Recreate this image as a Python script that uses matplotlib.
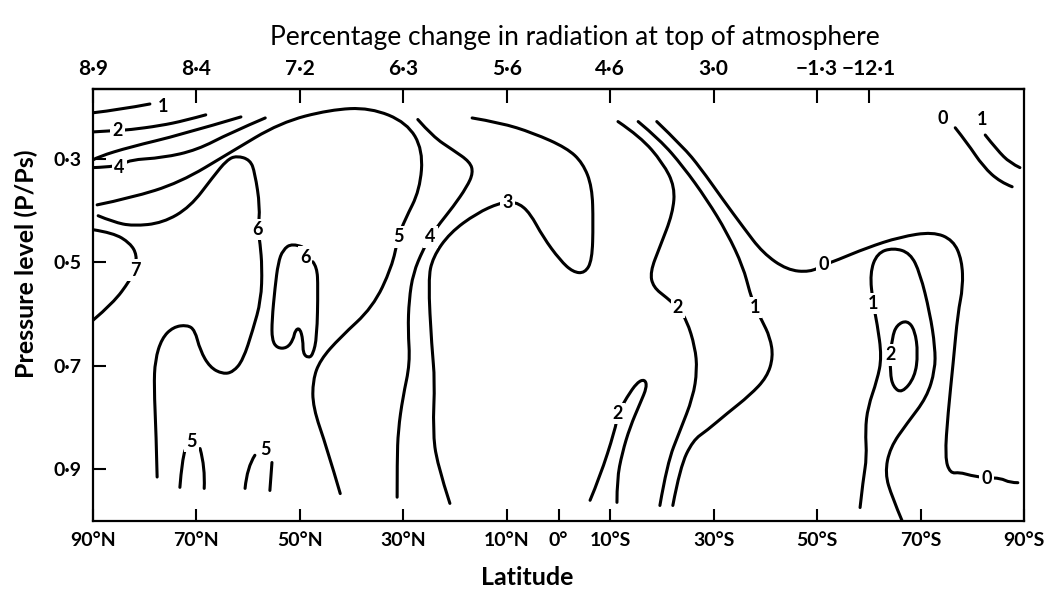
import matplotlib.pyplot as plt
from matplotlib.path import Path
from matplotlib.patches import PathPatch

plt.rcParams['font.family'] = ['Lato', 'DejaVu Sans']

# axis ticks and labels
lat_bottom = [90, 70, 50, 30, 10, 0, -10, -30, -50, -70, -90]
lat_bottom_labels = ['90°N', '70°N', '50°N', '30°N', '10°N', '0°',
                     '10°S', '30°S', '50°S', '70°S', '90°S']
lat_top = [90, 70, 50, 30, 10, -10, -30, -50, -60]
radiation_change = ['8·9', '8·4', '7·2', '6·3', '5·6', '4·6', '3·0', '−1·3', '−12·1']
p_levels = [0.3, 0.5, 0.7, 0.9]
p_labels = ['0·3', '0·5', '0·7', '0·9']

# isolines, as (latitude, P/Ps); north positive
iso_1_nw = [(90.0, 0.211), (84.8, 0.205), (79.0, 0.194)]
iso_2_nw = [(90.0, 0.248), (85.2, 0.245), (83.0, 0.244), (77.0, 0.236),
            (72.2, 0.226), (68.2, 0.215)]
iso_3_nw = [(90.0, 0.302), (89.0, 0.296), (82.8, 0.277), (73.2, 0.254),
            (61.4, 0.219)]
iso_4_nw = [(90.0, 0.317), (84.8, 0.315), (83.0, 0.302), (76.5, 0.298),
            (69.9, 0.283), (63.5, 0.250), (56.7, 0.221)]
iso_5_n = [(89.2, 0.389), (82.8, 0.376), (73.2, 0.346), (63.5, 0.288),
           (53.8, 0.230), (44.2, 0.205), (36.4, 0.201), (29.3, 0.230),
           (26.2, 0.283), (26.8, 0.360), (29.7, 0.418), (31.0, 0.451),
           (32.2, 0.509), (35.9, 0.587), (42.2, 0.645), (46.1, 0.689),
           (47.5, 0.728), (47.5, 0.780), (44.8, 0.858), (42.2, 0.947)]
iso_6_n = [(89.0, 0.410), (86.1, 0.422), (82.3, 0.430), (76.5, 0.424),
           (71.2, 0.393), (66.8, 0.335), (64.1, 0.302), (62.2, 0.294),
           (59.6, 0.302), (58.7, 0.327), (57.7, 0.393), (58.1, 0.437),
           (57.7, 0.463), (57.3, 0.509), (57.5, 0.573), (59.1, 0.631),
           (61.0, 0.689), (62.9, 0.712), (64.9, 0.716), (67.4, 0.703),
           (69.3, 0.670), (70.3, 0.631), (71.8, 0.621), (74.5, 0.625),
           (76.7, 0.647), (78.0, 0.689), (78.2, 0.741), (77.8, 0.830),
           (77.6, 0.915)]
iso_7_n = [(90.0, 0.437), (86.1, 0.443), (82.8, 0.463), (81.5, 0.486),
           (81.9, 0.515), (82.8, 0.534), (86.1, 0.579), (90.0, 0.612)]
iso_6_inner = [(49.6, 0.470), (51.5, 0.463), (53.3, 0.476), (54.2, 0.501),
               (54.8, 0.548), (55.4, 0.612), (55.4, 0.650), (54.4, 0.666),
               (52.5, 0.666), (51.3, 0.650), (50.9, 0.631), (50.0, 0.627),
               (49.4, 0.650), (49.4, 0.676), (48.4, 0.685), (47.5, 0.679),
               (46.7, 0.645), (46.5, 0.548), (46.7, 0.509), (47.5, 0.499)]
iso_5_low_a = [(73.2, 0.935), (72.8, 0.883), (72.2, 0.863)]
iso_5_low_b = [(69.3, 0.860), (68.3, 0.896), (68.5, 0.937)]
iso_5_low_c = [(60.6, 0.937), (60.2, 0.896), (58.7, 0.873)]
iso_5_low_d = [(55.4, 0.887), (55.8, 0.941)]
iso_4_n = [(27.2, 0.224), (24.3, 0.257), (20.4, 0.283), (17.1, 0.306),
           (16.5, 0.327), (17.7, 0.354), (20.4, 0.393), (22.9, 0.424),
           (24.8, 0.451), (26.2, 0.476), (28.1, 0.521), (28.9, 0.573),
           (29.1, 0.631), (28.7, 0.695), (30.1, 0.761), (31.0, 0.825),
           (31.2, 0.883), (31.2, 0.954)]
iso_3_eq = [(16.7, 0.221), (11.3, 0.230), (4.9, 0.250), (-1.6, 0.279),
            (-4.7, 0.308), (-6.5, 0.354), (-6.7, 0.424), (-6.5, 0.496),
            (-5.1, 0.521), (-2.8, 0.519), (-0.3, 0.496), (3.0, 0.451),
            (5.5, 0.405), (7.8, 0.385), (9.8, 0.385), (11.3, 0.385),
            (15.8, 0.405), (21.0, 0.443), (24.3, 0.490), (25.2, 0.534),
            (24.5, 0.664), (23.9, 0.728), (24.3, 0.825), (23.5, 0.889),
            (21.0, 0.966)]
iso_2_s = [(-11.5, 0.228), (-15.8, 0.257), (-20.2, 0.308), (-22.5, 0.354),
           (-22.1, 0.405), (-19.6, 0.470), (-17.7, 0.519), (-18.3, 0.548),
           (-21.0, 0.569), (-23.1, 0.588), (-24.8, 0.612), (-26.4, 0.664),
           (-26.8, 0.708), (-26.0, 0.761), (-23.5, 0.825), (-21.0, 0.889),
           (-19.6, 0.970)]
iso_2_low = [(-6.1, 0.960), (-8.0, 0.915), (-10.9, 0.825), (-11.5, 0.792),
             (-13.2, 0.761), (-15.2, 0.732), (-16.7, 0.726), (-17.1, 0.741),
             (-15.8, 0.772), (-13.8, 0.819), (-12.3, 0.869), (-11.3, 0.920),
             (-11.3, 0.964)]
iso_1_s = [(-15.4, 0.228), (-19.6, 0.263), (-24.1, 0.315), (-28.7, 0.379),
           (-32.6, 0.443), (-35.7, 0.509), (-37.0, 0.559), (-38.0, 0.587),
           (-39.3, 0.612), (-40.9, 0.645), (-41.5, 0.683), (-40.3, 0.722),
           (-37.0, 0.757), (-32.6, 0.792), (-28.7, 0.825), (-26.0, 0.844),
           (-23.5, 0.896), (-22.1, 0.970)]
iso_0_s = [(-19.0, 0.228), (-24.1, 0.277), (-27.4, 0.317), (-31.8, 0.379),
           (-35.7, 0.432), (-39.5, 0.482), (-44.2, 0.515), (-48.6, 0.519),
           (-51.3, 0.505), (-53.8, 0.496), (-59.6, 0.472), (-66.0, 0.451),
           (-72.4, 0.441), (-76.3, 0.457), (-78.0, 0.496), (-78.2, 0.548),
           (-77.2, 0.598), (-76.3, 0.695), (-75.3, 0.792), (-74.7, 0.877),
           (-75.7, 0.908), (-77.6, 0.906), (-79.6, 0.912), (-82.8, 0.917),
           (-85.4, 0.917), (-87.3, 0.926), (-88.8, 0.926)]
iso_1_sp = [(-58.3, 0.974), (-58.9, 0.920), (-59.6, 0.877), (-59.3, 0.825),
            (-59.8, 0.780), (-61.6, 0.728), (-62.5, 0.683), (-61.6, 0.618),
            (-60.8, 0.579), (-60.2, 0.521), (-61.6, 0.482), (-64.7, 0.472),
            (-68.0, 0.482), (-69.9, 0.521), (-71.8, 0.598), (-72.8, 0.664),
            (-72.8, 0.708), (-71.2, 0.761), (-67.4, 0.811), (-64.1, 0.858),
            (-63.1, 0.908), (-64.5, 0.954), (-66.4, 0.999)]
iso_2_sp = [(-64.1, 0.679), (-64.5, 0.645), (-65.4, 0.621), (-67.4, 0.612),
            (-68.9, 0.631), (-69.5, 0.676), (-68.9, 0.722), (-66.4, 0.753),
            (-64.7, 0.741), (-64.1, 0.714), (-64.1, 0.679)]
iso_0_ne = [(-76.7, 0.240), (-79.0, 0.269), (-82.1, 0.315), (-85.4, 0.345),
            (-87.7, 0.354)]
iso_1_ne = [(-82.5, 0.254), (-84.8, 0.283), (-87.3, 0.308), (-89.2, 0.317)]

isolines = [iso_1_nw, iso_2_nw, iso_3_nw, iso_4_nw, iso_5_n, iso_6_n, iso_7_n,
            iso_6_inner, iso_5_low_a, iso_5_low_b, iso_5_low_c, iso_5_low_d,
            iso_4_n, iso_3_eq, iso_2_s, iso_2_low, iso_1_s, iso_0_s,
            iso_1_sp, iso_2_sp, iso_0_ne, iso_1_ne]

# isoline labels: value and (latitude, P/Ps)
label_text = ['1', '2', '4', '5', '6', '7', '6', '5', '5', '4', '3',
              '2', '2', '1', '0', '0', '1', '2', '0', '1']
label_pos = [(76.5, 0.198), (85.3, 0.245), (84.9, 0.316), (31.0, 0.451),
             (58.1, 0.437), (81.9, 0.515), (49.0, 0.490), (70.9, 0.846),
             (56.6, 0.861), (24.8, 0.451), (9.8, 0.385), (-23.1, 0.588),
             (-11.5, 0.792), (-38.0, 0.587), (-51.3, 0.505), (-82.8, 0.917),
             (-60.8, 0.579), (-64.1, 0.679), (-74.3, 0.223), (-81.9, 0.224)]


def smooth_path(pts):
    # quadratic bezier through the midpoints, read points act as controls
    if len(pts) < 3:
        return Path(pts)
    verts = [pts[0]]
    codes = [Path.MOVETO]
    for i in range(1, len(pts) - 1):
        if i < len(pts) - 2:
            end = ((pts[i][0] + pts[i + 1][0]) / 2, (pts[i][1] + pts[i + 1][1]) / 2)
        else:
            end = pts[-1]
        verts += [pts[i], end]
        codes += [Path.CURVE3, Path.CURVE3]
    return Path(verts, codes)


fig = plt.figure(figsize=(10.46, 6), dpi=100)
ax = fig.add_axes([0.0889, 0.1317, 0.8901, 0.72])

for line in isolines:
    ax.add_patch(PathPatch(smooth_path(line), fc='none', ec='black', lw=2.2,
                           capstyle='round', joinstyle='round'))

for txt, (x, y) in zip(label_text, label_pos):
    ax.text(x, y, txt, ha='center', va='center', fontsize=13,
            fontweight='bold', zorder=5,
            bbox=dict(boxstyle='square,pad=0.12', fc='white', ec='none'))

ax.set_xlim(90, -90)
ax.set_ylim(1.0, 0.165)
for sp in ax.spines.values():
    sp.set_linewidth(1.6)

ax.set_xticks(lat_bottom)
ax.set_xticklabels(lat_bottom_labels, fontsize=14, fontweight='bold')
ax.set_yticks(p_levels)
ax.set_yticklabels(p_labels, fontsize=14, fontweight='bold')
ax.tick_params(axis='both', direction='in', length=9, width=1.5, pad=8)

top = ax.secondary_xaxis('top')
top.set_xticks(lat_top)
top.set_xticklabels(radiation_change, fontsize=15, fontweight='bold')
top.tick_params(direction='in', length=10, width=1.5, pad=7)
top.spines['top'].set_linewidth(1.6)

fig.text(0.55, 0.937, 'Percentage change in radiation at top of atmosphere',
         ha='center', va='center', fontsize=19)
fig.text(0.504, 0.038, 'Latitude', ha='center', va='center', fontsize=18,
         fontweight='bold')
fig.text(0.025, 0.56, 'Pressure level (P/Ps)', ha='center', va='center',
         rotation=90, fontsize=18, fontweight='bold')

fig.savefig('out.png', dpi=100)
